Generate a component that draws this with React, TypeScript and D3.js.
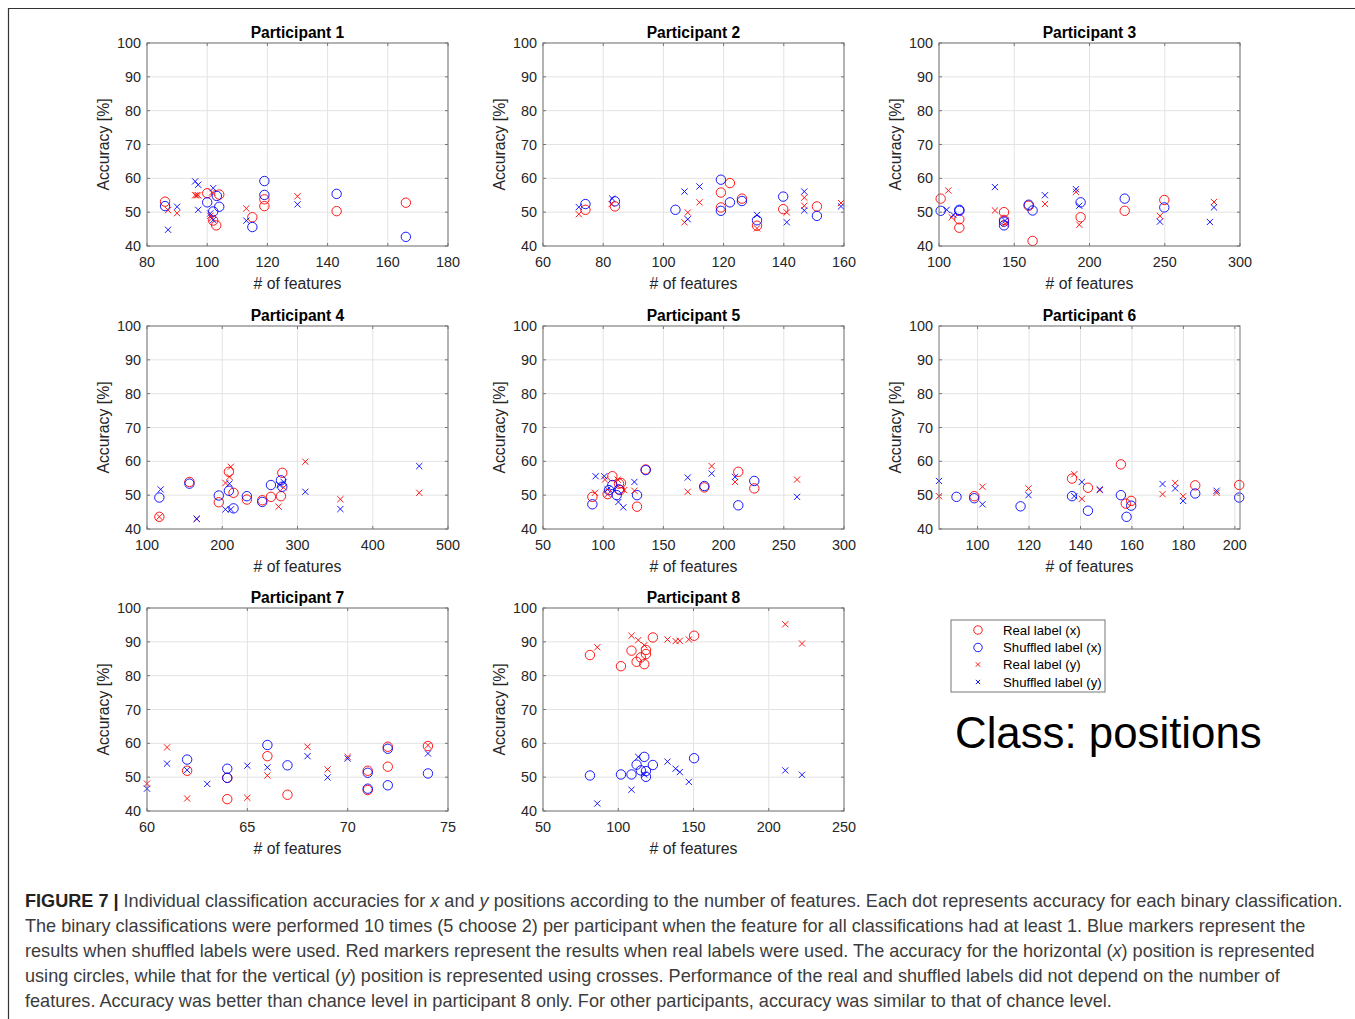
import * as d3 from 'd3';

type Pt = [number, number];

// ---- data (features, accuracy %) ----
const p1RealX: Pt[] = [[86, 53.1], [100, 55.6], [104, 55.2], [102, 47.5], [103, 46.1], [115, 48.5], [119, 53.8], [119, 51.8], [143, 50.3], [166, 52.8]];
const p1ShufX: Pt[] = [[86, 51.8], [100, 52.9], [103.2, 54.8], [104, 51.6], [102, 50.2], [115, 45.6], [119, 59.2], [119, 55.1], [143, 55.4], [166, 42.7]];
const p1RealY: Pt[] = [[87, 50.6], [90, 49.7], [96, 55], [96.5, 55], [97, 55], [101.6, 55.8], [101, 48.9], [101.6, 48.2], [113, 51.1], [130, 54.7]];
const p1ShufY: Pt[] = [[87, 44.8], [90, 51.6], [96, 59.1], [97, 58.1], [97, 50.7], [102, 57.1], [101, 49.6], [102, 47.7], [113, 47.5], [130, 52.3]];

const p2RealX: Pt[] = [[74.1, 50.7], [83.9, 51.7], [119.1, 55.8], [119.1, 51.4], [122.1, 58.6], [126.1, 54], [131.1, 46], [139.8, 50.9], [151, 51.7]];
const p2ShufX: Pt[] = [[74.1, 52.4], [83.9, 53.2], [104, 50.7], [119.1, 59.6], [119.1, 50.4], [122.1, 52.9], [126.1, 53.3], [131.1, 47.6], [139.8, 54.6], [151, 48.9]];
const p2RealY: Pt[] = [[71.9, 49.4], [82.8, 52.4], [107, 47], [108.1, 49.9], [112, 52.9], [131.1, 45.2], [141, 49.9], [146.8, 54.3], [146.8, 51.9], [159, 52.7]];
const p2ShufY: Pt[] = [[71.9, 51.5], [83, 54], [107, 56.1], [108.1, 47.9], [112, 57.6], [131.1, 49.2], [141, 47], [146.8, 56.1], [146.8, 50.5], [159, 51.7]];

const p3RealX: Pt[] = [[101.1, 54], [113.5, 47.9], [113.5, 45.4], [143.2, 50], [143.2, 47.7], [159.6, 51.9], [162.2, 41.5], [194.1, 48.5], [223.4, 50.4], [249.7, 53.6]];
const p3ShufX: Pt[] = [[101.1, 50.4], [113.5, 50.7], [113.5, 50.4], [143.2, 47.2], [143.2, 46.1], [159.6, 52.2], [162.2, 50.5], [194.1, 52.9], [223.4, 54], [249.7, 51.4]];
const p3RealY: Pt[] = [[106.2, 56.4], [108.4, 48.5], [137.2, 50.5], [143.9, 46.6], [170.4, 52.4], [191, 56], [193.2, 46.3], [246.8, 48.9], [282.7, 53]];
const p3ShufY: Pt[] = [[105.1, 50.7], [109.5, 49.2], [137.2, 57.4], [143.9, 47.5], [170.4, 55], [191, 56.8], [193.2, 51.9], [246.8, 47.2], [280, 47.1], [282.7, 51.4]];

const p4RealX: Pt[] = [[116.4, 43.6], [156.4, 53.9], [195.4, 47.9], [208.8, 56.9], [215, 50.7], [232.7, 48.7], [253.2, 48.5], [264.7, 49.5], [278, 49.7], [279.8, 56.6]];
const p4ShufX: Pt[] = [[116.4, 49.3], [156.4, 53.4], [195.4, 49.9], [208.8, 51.3], [215, 46.1], [232.7, 49.7], [253.2, 48], [264.7, 53], [278, 54.4], [279.8, 52.5]];
const p4RealY: Pt[] = [[116.4, 43.6], [166.1, 43], [204.3, 53.6], [211.4, 58.4], [209.6, 55.4], [274.9, 46.6], [281.6, 52.3], [310.4, 59.9], [357, 48.8], [461.8, 50.7]];
const p4ShufY: Pt[] = [[118.2, 51.7], [166.1, 43], [204.3, 45.8], [209.6, 53.4], [211.4, 45.8], [276.3, 53], [281.6, 53.9], [310.4, 51], [357, 45.9], [461.8, 58.6]];

const p5RealX: Pt[] = [[91, 49.5], [107.6, 55.6], [113.1, 53.4], [114.8, 53.6], [103.7, 50.3], [114, 51.5], [128.1, 46.6], [135.3, 57.6], [184, 52.3], [212.2, 56.9], [225.5, 52]];
const p5ShufX: Pt[] = [[91, 47.3], [104.8, 51.5], [107.6, 53], [111.2, 50], [113.1, 51.7], [128.1, 50], [135.3, 57.4], [184, 52.7], [212.2, 47], [225.5, 54.2]];
const p5RealY: Pt[] = [[93.2, 50.7], [101.5, 54.6], [103.7, 50.3], [112, 54.6], [117.5, 51.5], [125.9, 51.3], [170.2, 51], [190.1, 58.6], [209.5, 53.9], [261, 54.6]];
const p5ShufY: Pt[] = [[93.7, 55.6], [100.9, 55.6], [103.7, 51.7], [112.6, 48], [116.7, 46.4], [125.9, 53.9], [170.2, 55.2], [190.1, 56.4], [209.5, 55.4], [261, 49.5]];

const p6RealX: Pt[] = [[98.7, 49.7], [136.7, 54.9], [142.9, 52.2], [155.7, 59.1], [157.6, 47.5], [159.7, 48.3], [184.6, 52.9], [201.7, 53]];
const p6ShufX: Pt[] = [[91.8, 49.5], [98.7, 49.1], [116.7, 46.7], [136.7, 49.7], [142.9, 45.4], [155.7, 50], [157.9, 43.6], [159.7, 46.9], [184.6, 50.5], [201.7, 49.3]];
const p6RealY: Pt[] = [[85, 49.7], [101.9, 52.5], [119.8, 52], [137.6, 56.2], [140.5, 48.9], [147.5, 51.5], [171.9, 50.3], [176.8, 53.6], [179.9, 49.7], [192.9, 50.7]];
const p6ShufY: Pt[] = [[85, 54.2], [101.9, 47.3], [119.8, 50], [137.6, 49.7], [140.5, 53.9], [147.5, 51.7], [171.9, 53.3], [176.8, 52], [179.9, 48.3], [192.9, 51.3]];

const p7RealX: Pt[] = [[62, 51.9], [64, 43.5], [64, 49.8], [66, 56.2], [67, 44.8], [71, 51.9], [71, 46.2], [72, 59], [72, 53.1], [74, 59.2]];
const p7ShufX: Pt[] = [[62, 55.2], [64, 52.5], [64, 49.8], [66, 59.5], [67, 53.5], [71, 51.3], [71, 46.6], [72, 58.4], [72, 47.6], [74, 51.1]];
const p7RealY: Pt[] = [[60, 48.1], [61, 58.8], [62, 43.7], [65, 43.9], [66, 50.5], [68, 59], [69, 52.3], [70, 56], [74, 59.4]];
const p7ShufY: Pt[] = [[60, 46.6], [61, 54], [62, 52.1], [63, 48], [65, 53.4], [66, 52.9], [68, 56.2], [69, 49.9], [70, 55.5], [74, 57]];

const p8RealX: Pt[] = [[81.2, 86.1], [101.8, 82.8], [108.8, 87.4], [112.2, 84.1], [115, 85.4], [117.3, 83.4], [118.4, 87.6], [118.4, 86.4], [123, 91.3], [150.4, 91.8]];
const p8ShufX: Pt[] = [[81.2, 50.5], [101.8, 50.8], [108.8, 50.8], [112.2, 53.7], [115, 52], [117.3, 56], [118.4, 50.1], [118.4, 51.8], [123, 53.6], [150.4, 55.6]];
const p8RealY: Pt[] = [[86.1, 88.4], [108.8, 91.8], [113.3, 90.5], [117.3, 89], [132.7, 90.7], [138.1, 90.2], [140.9, 90.3], [146.9, 90.7], [211, 95.2], [222.1, 89.5]];
const p8ShufY: Pt[] = [[86.1, 42.2], [108.8, 46.3], [113.3, 56], [117.3, 50.8], [132.7, 54.6], [138.1, 52.5], [140.9, 51.5], [146.9, 48.6], [211, 52], [222.1, 50.7]];

const xDomains: [number, number][] = [[80, 180], [60, 160], [100, 300], [100, 500], [50, 300], [85, 202], [60, 75], [50, 250]];
const xTicks: number[][] = [
  [80, 100, 120, 140, 160, 180],
  [60, 80, 100, 120, 140, 160],
  [100, 150, 200, 250, 300],
  [100, 200, 300, 400, 500],
  [50, 100, 150, 200, 250, 300],
  [100, 120, 140, 160, 180, 200],
  [60, 65, 70, 75],
  [50, 100, 150, 200, 250],
];
const yTicks = [40, 50, 60, 70, 80, 90, 100];
const legendLabels = ['Real label (x)', 'Shuffled label (x)', 'Real label (y)', 'Shuffled label (y)'];

const captionLines: { text: string; italic?: boolean }[][] = [
  [{ text: 'Individual classification accuracies for ' }, { text: 'x', italic: true }, { text: ' and ' }, { text: 'y', italic: true }, { text: ' positions according to the number of features. Each dot represents accuracy for each binary classification.' }],
  [{ text: 'The binary classifications were performed 10 times (5 choose 2) per participant when the feature for all classifications had at least 1. Blue markers represent the' }],
  [{ text: 'results when shuffled labels were used. Red markers represent the results when real labels were used. The accuracy for the horizontal (' }, { text: 'x', italic: true }, { text: ') position is represented' }],
  [{ text: 'using circles, while that for the vertical (' }, { text: 'y', italic: true }, { text: ') position is represented using crosses. Performance of the real and shuffled labels did not depend on the number of' }],
  [{ text: 'features. Accuracy was better than chance level in participant 8 only. For other participants, accuracy was similar to that of chance level.' }],
];

const series = [
  [p1RealX, p1ShufX, p1RealY, p1ShufY],
  [p2RealX, p2ShufX, p2RealY, p2ShufY],
  [p3RealX, p3ShufX, p3RealY, p3ShufY],
  [p4RealX, p4ShufX, p4RealY, p4ShufY],
  [p5RealX, p5ShufX, p5RealY, p5ShufY],
  [p6RealX, p6ShufX, p6RealY, p6ShufY],
  [p7RealX, p7ShufX, p7RealY, p7ShufY],
  [p8RealX, p8ShufX, p8RealY, p8ShufY],
];

const W = 1355;
const H = 1019;
const colLeft = [147, 543, 939];
const rowTop = [43, 326, 608];
const plotW = 301;
const plotH = 203;
const font = '"Liberation Sans", Arial, Helvetica, sans-serif';
const red = '#ff0000';
const blue = '#0000ff';
const seriesColor = [red, blue, red, blue];
const tickColor = '#262626';

function Marker({ kind, color, x, y, size = 1 }: { kind: 'o' | 'x'; color: string; x: number; y: number; size?: number }) {
  if (kind === 'o') {
    return <circle cx={x} cy={y} r={4.7 * size} fill="none" stroke={color} strokeWidth={0.9} />;
  }
  const s = 3.1 * size;
  return (
    <path
      d={`M${x - s},${y - s}L${x + s},${y + s}M${x - s},${y + s}L${x + s},${y - s}`}
      stroke={color}
      strokeWidth={0.9}
      fill="none"
    />
  );
}

function Panel({ idx }: { idx: number }) {
  const left = colLeft[idx % 3];
  const top = rowTop[Math.floor(idx / 3)];
  const x = d3.scaleLinear().domain(xDomains[idx]).range([left, left + plotW]);
  const y = d3.scaleLinear().domain([40, 100]).range([top + plotH, top]);
  const bottom = top + plotH;
  const right = left + plotW;
  const tl = 3;

  return (
    <g>
      {/* grid */}
      {xTicks[idx].map((t) => (
        <line key={'gx' + t} x1={x(t)} x2={x(t)} y1={top} y2={bottom} stroke="#e3e3e3" />
      ))}
      {yTicks.map((t) => (
        <line key={'gy' + t} x1={left} x2={right} y1={y(t)} y2={y(t)} stroke="#e3e3e3" />
      ))}

      {/* markers */}
      {series[idx].map((pts, si) => (
        <g key={si}>
          {pts.map(([fx, acc], i) => (
            <Marker key={i} kind={si < 2 ? 'o' : 'x'} color={seriesColor[si]} x={x(fx)} y={y(acc)} />
          ))}
        </g>
      ))}

      {/* box + ticks */}
      <rect x={left} y={top} width={plotW} height={plotH} fill="none" stroke="#767676" strokeWidth={1} />
      {xTicks[idx].map((t) => (
        <g key={'tx' + t}>
          <line x1={x(t)} x2={x(t)} y1={bottom} y2={bottom - tl} stroke="#767676" />
          <line x1={x(t)} x2={x(t)} y1={top} y2={top + tl} stroke="#767676" />
          <text x={x(t)} y={bottom + 21} textAnchor="middle" fontSize={14.4} fill={tickColor} fontFamily={font}>
            {t}
          </text>
        </g>
      ))}
      {yTicks.map((t) => (
        <g key={'ty' + t}>
          <line x1={left} x2={left + tl} y1={y(t)} y2={y(t)} stroke="#767676" />
          <line x1={right} x2={right - tl} y1={y(t)} y2={y(t)} stroke="#767676" />
          <text x={left - 6} y={y(t) + 5} textAnchor="end" fontSize={14.4} fill={tickColor} fontFamily={font}>
            {t}
          </text>
        </g>
      ))}

      {/* labels */}
      <text
        x={(left + right) / 2}
        y={top - 5}
        textAnchor="middle"
        fontSize={15.6}
        fontWeight="bold"
        fill="#000"
        fontFamily={font}
      >
        {`Participant ${idx + 1}`}
      </text>
      <text x={(left + right) / 2} y={bottom + 43} textAnchor="middle" fontSize={15.8} fill={tickColor} fontFamily={font}>
        # of features
      </text>
      <text
        transform={`translate(${left - 38},${(top + bottom) / 2}) rotate(-90)`}
        textAnchor="middle"
        fontSize={15.8}
        fill={tickColor}
        fontFamily={font}
      >
        Accuracy [%]
      </text>
    </g>
  );
}

function Legend() {
  const lx = 951;
  const ly = 620;
  const rowY = [630, 647.5, 664.5, 682];
  return (
    <g>
      <rect x={lx} y={ly} width={154} height={72} fill="#fff" stroke="#767676" strokeWidth={1} />
      {legendLabels.map((label, i) => (
        <g key={label}>
          <Marker kind={i < 2 ? 'o' : 'x'} color={seriesColor[i]} x={978} y={rowY[i]} size={i < 2 ? 0.9 : 0.7} />
          <text x={1003} y={rowY[i] + 4.5} fontSize={13.2} fill="#000" fontFamily={font}>
            {label}
          </text>
        </g>
      ))}
    </g>
  );
}

export default function App() {
  return (
    <svg
      width={W}
      height={H}
      style={{ position: 'absolute', left: 0, top: 0, background: '#fff' }}
      viewBox={`0 0 ${W} ${H}`}
    >
      <rect x={0} y={0} width={W} height={H} fill="#fff" />
      <line x1={8} x2={W} y1={8.5} y2={8.5} stroke="#333" strokeWidth={1.2} />
      <line x1={8.5} x2={8.5} y1={8} y2={H} stroke="#333" strokeWidth={1.2} />

      {d3.range(8).map((i) => (
        <Panel key={i} idx={i} />
      ))}
      <Legend />
      <text x={955} y={748} fontSize={43.8} fill="#000" fontFamily={font}>
        Class: positions
      </text>

      {captionLines.map((line, li) => (
        <text key={li} x={25} y={907 + li * 25} fontSize={18.1} fill="#3c3c3c" fontFamily={font}>
          {li === 0 && <tspan fontWeight="bold" fill="#222">FIGURE 7 | </tspan>}
          {line.map((seg, si) => (
            <tspan key={si} fontStyle={seg.italic ? 'italic' : undefined}>
              {seg.text}
            </tspan>
          ))}
        </text>
      ))}
    </svg>
  );
}
